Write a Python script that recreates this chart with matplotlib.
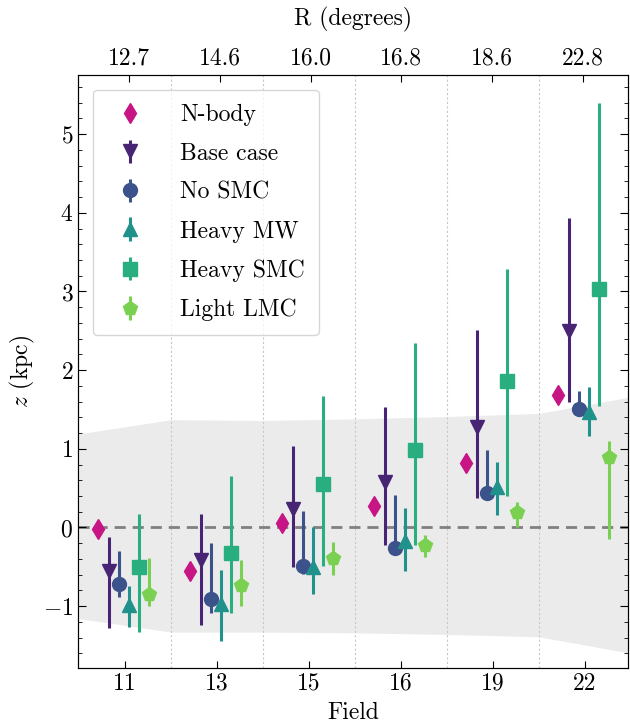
import numpy as np
import matplotlib
matplotlib.use('Agg')
from matplotlib import pyplot as plt
from matplotlib.ticker import MultipleLocator

plt.rcParams['font.family'] = 'serif'
plt.rcParams['font.serif'] = ['cmr10']
plt.rcParams['mathtext.fontset'] = 'cm'
plt.rcParams['axes.formatter.use_mathtext'] = True
plt.rcParams['font.size'] = 17

fields = ['11', '13', '15', '16', '19', '22']
radii = ['12.7', '14.6', '16.0', '16.8', '18.6', '22.8']

# gray band, sampled at the field edges
band_x = [-0.5, 0.5, 1.5, 2.5, 3.5, 4.5, 5.5]
band_hi = [1.19, 1.37, 1.36, 1.38, 1.41, 1.45, 1.66]
band_lo = [-1.16, -1.33, -1.33, -1.34, -1.36, -1.39, -1.60]

nbody = [-0.02, -0.55, 0.06, 0.27, 0.82, 1.69]

base = [-0.56, -0.41, 0.23, 0.58, 1.28, 2.50]
base_hi = [-0.12, 0.17, 1.03, 1.53, 2.51, 3.93]
base_lo = [-1.28, -1.24, -0.50, -0.22, 0.38, 1.59]

nosmc = [-0.72, -0.91, -0.49, -0.26, 0.44, 1.51]
nosmc_hi = [-0.30, -0.20, 0.21, 0.41, 0.99, 1.73]
nosmc_lo = [-0.88, -1.09, -0.59, -0.33, 0.40, 1.45]

heavymw = [-0.99, -0.97, -0.50, -0.17, 0.51, 1.47]
heavymw_hi = [-0.74, -0.54, 0.01, 0.25, 0.83, 1.78]
heavymw_lo = [-1.26, -1.44, -0.85, -0.56, 0.16, 1.16]

heavysmc = [-0.50, -0.33, 0.55, 0.98, 1.86, 3.03]
heavysmc_hi = [0.17, 0.65, 1.67, 2.35, 3.29, 5.40]
heavysmc_lo = [-1.33, -1.09, -0.49, -0.22, 0.40, 1.55]

lightlmc = [-0.85, -0.73, -0.39, -0.22, 0.19, 0.90]
lightlmc_hi = [-0.39, -0.42, -0.19, -0.09, 0.32, 1.10]
lightlmc_lo = [-1.00, -1.00, -0.61, -0.38, 0.00, -0.15]

cols = ['#482475', '#3b528b', '#21918c', '#29af7f', '#7ad151']

fig, ax = plt.subplots(figsize=(6.3, 7.26), dpi=100)
fig.subplots_adjust(left=0.124, right=0.997, top=0.897, bottom=0.080)

x = np.arange(len(fields))

ax.fill_between(band_x, band_lo, band_hi, color='#ebebeb', lw=0, zorder=0)
ax.axhline(0, color='gray', ls='--', lw=2, dashes=(4, 2.5), zorder=1)
for b in np.arange(0.5, 5.0, 1.0):
    ax.axvline(b, color='#c8c8c8', ls='--', lw=0.8, dashes=(2, 2), zorder=0.5)

ax.plot(x - 0.29, nbody, 'd', color='#c71585', ms=10, label='N-body', zorder=3)

runs = [
    (base, base_lo, base_hi, 'v', 'Base case', -0.175),
    (nosmc, nosmc_lo, nosmc_hi, 'o', 'No SMC', -0.065),
    (heavymw, heavymw_lo, heavymw_hi, '^', 'Heavy MW', 0.045),
    (heavysmc, heavysmc_lo, heavysmc_hi, 's', 'Heavy SMC', 0.155),
    (lightlmc, lightlmc_lo, lightlmc_hi, 'p', 'Light LMC', 0.265),
]
for (y, lo, hi, m, lab, off), c in zip(runs, cols):
    y = np.array(y)
    err = [y - np.array(lo), np.array(hi) - y]
    ax.errorbar(x + off, y, yerr=err, fmt=m, color=c, ms=10, elinewidth=2.2,
                capsize=0, label=lab, zorder=3)

ax.set_xlim(-0.51, 5.47)
ax.set_ylim(-1.786, 5.755)
ax.set_xticks(x)
ax.set_xticklabels(fields)
ax.set_xlabel('Field', labelpad=5)
ax.set_ylabel('$z$ (kpc)')
ax.yaxis.set_major_locator(MultipleLocator(1))
ax.yaxis.set_minor_locator(MultipleLocator(0.2))
ax.tick_params(axis='y', which='both', direction='in', left=True, right=True)
ax.tick_params(axis='y', which='major', length=6)
ax.tick_params(axis='y', which='minor', length=3)
ax.tick_params(axis='x', which='both', direction='in', top=False, length=5)
ax.xaxis.set_minor_locator(plt.NullLocator())

ax2 = ax.twiny()
ax2.set_xlim(-0.565, 5.5)
ax2.set_xticks(x)
ax2.set_xticklabels(radii)
ax2.set_xlabel('R (degrees)', labelpad=16)
ax2.tick_params(axis='x', which='both', direction='in', length=5)
ax2.xaxis.set_minor_locator(plt.NullLocator())

ax.legend(loc='upper left', frameon=True, fancybox=True, framealpha=0.8,
          edgecolor='#cccccc', borderpad=0.6, handletextpad=1.1,
          labelspacing=0.71, bbox_to_anchor=(0.005, 0.995))

fig.savefig('out.png', dpi=100)
